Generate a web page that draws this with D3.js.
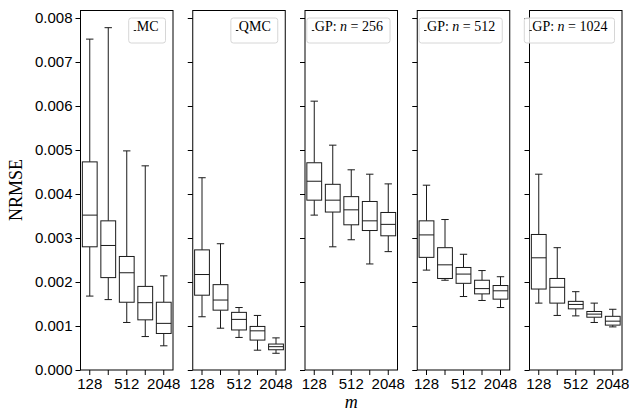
<!DOCTYPE html>
<html>
<head>
<meta charset="utf-8">
<script src="https://cdn.jsdelivr.net/npm/d3@7"></script>
<style>
  body { margin: 0; background: #fff; }
  svg { display: block; }
</style>
</head>
<body>
<div id="chart"></div>
<script>
// sample sizes m (x categories) and which get a label
const mValues = [128, 256, 512, 1024, 2048];
const mLabels = ["128", "", "512", "", "2048"];
const yTicks = [0, 0.001, 0.002, 0.003, 0.004, 0.005, 0.006, 0.007, 0.008];

// each row: [lower whisker, Q1, median, Q3, upper whisker] for one m
const mcStats = [
    [0.00168, 0.00280, 0.00352, 0.00473, 0.00752],
    [0.00160, 0.00210, 0.00283, 0.00339, 0.00778],
    [0.00108, 0.00154, 0.00221, 0.00258, 0.00498],
    [0.00076, 0.00114, 0.00153, 0.00190, 0.00464],
    [0.00055, 0.00083, 0.00106, 0.00154, 0.00214]
];
const qmcStats = [
    [0.00121, 0.00170, 0.00217, 0.00273, 0.00437],
    [0.00095, 0.00136, 0.00159, 0.00194, 0.00287],
    [0.00074, 0.00091, 0.00115, 0.00131, 0.00142],
    [0.00045, 0.00068, 0.00089, 0.00099, 0.00124],
    [0.00038, 0.00046, 0.00053, 0.00059, 0.00073]
];
const gp256Stats = [
    [0.00352, 0.00386, 0.00429, 0.00471, 0.00611],
    [0.00280, 0.00359, 0.00386, 0.00422, 0.00511],
    [0.00296, 0.00330, 0.00364, 0.00394, 0.00455],
    [0.00241, 0.00317, 0.00339, 0.00383, 0.00445],
    [0.00269, 0.00305, 0.00331, 0.00358, 0.00423]
];
const gp512Stats = [
    [0.00227, 0.00256, 0.00307, 0.00339, 0.00420],
    [0.00204, 0.00208, 0.00239, 0.00278, 0.00342],
    [0.00167, 0.00197, 0.00218, 0.00233, 0.00263],
    [0.00158, 0.00173, 0.00185, 0.00204, 0.00226],
    [0.00142, 0.00161, 0.00180, 0.00192, 0.00212]
];
const gp1024Stats = [
    [0.00152, 0.00184, 0.00255, 0.00308, 0.00445],
    [0.00124, 0.00152, 0.00188, 0.00208, 0.00278],
    [0.00123, 0.00139, 0.00149, 0.00156, 0.00178],
    [0.00108, 0.00120, 0.00127, 0.00133, 0.00152],
    [0.00098, 0.00102, 0.00111, 0.00122, 0.00138]
];

const panels = [
    {label: ["MC"], stats: mcStats},
    {label: ["QMC"], stats: qmcStats},
    {label: ["GP: ", "n", " = 256"], stats: gp256Stats},
    {label: ["GP: ", "n", " = 512"], stats: gp512Stats},
    {label: ["GP: ", "n", " = 1024"], stats: gp1024Stats}
];

const W = 629, H = 413;
const margin = {top: 10.5, bottom: 370, left: 80.5};
const panelW = 92.5, panelStep = 112.25;
const serif = "'Liberation Serif', 'DejaVu Serif', serif";
const sans = "'Liberation Sans', Arial, sans-serif";

const svg = d3.select("#chart").append("svg")
    .attr("width", W)
    .attr("height", H);

const y = d3.scaleLinear()
    .domain([0, 0.008 * (370 - 10.5) / 352])
    .range([margin.bottom, margin.top]);

const x = d3.scaleBand()
    .domain(mValues)
    .range([0, panelW])
    .paddingInner(0.2)
    .paddingOuter(0.1);

panels.forEach((p, i) => {
    const g = svg.append("g")
        .attr("transform", "translate(" + (margin.left + i * panelStep) + ",0)");

    // y axis (labels only on the first panel)
    const yAxis = d3.axisLeft(y).tickValues(yTicks).tickSize(5).tickPadding(3)
        .tickFormat(i === 0 ? d3.format(".3f") : "");
    g.append("g").call(yAxis)
        .call(a => a.select(".domain").remove())
        .call(a => a.selectAll("text").style("font-family", sans).style("font-size", "15px").attr("fill", "#000"));

    // x axis
    const xAxis = d3.axisBottom(x).tickSize(5).tickPadding(3)
        .tickFormat((d, k) => mLabels[k]);
    g.append("g")
        .attr("transform", "translate(0," + margin.bottom + ")")
        .call(xAxis)
        .call(a => a.select(".domain").remove())
        .call(a => a.selectAll("text").style("font-family", sans).style("font-size", "15px").attr("fill", "#000"));

    const boxW = x.bandwidth();
    const capW = boxW / 2;
    const boxes = g.selectAll(".box")
        .data(p.stats)
        .enter().append("g")
        .attr("class", "box")
        .attr("transform", (d, k) => "translate(" + (x(mValues[k]) + boxW / 2) + ",0)");

    // whiskers
    boxes.append("line")
        .attr("x1", 0).attr("x2", 0)
        .attr("y1", d => y(d[3])).attr("y2", d => y(d[4]))
        .attr("stroke", "#1a1a1a").attr("stroke-width", 1);
    boxes.append("line")
        .attr("x1", 0).attr("x2", 0)
        .attr("y1", d => y(d[1])).attr("y2", d => y(d[0]))
        .attr("stroke", "#1a1a1a").attr("stroke-width", 1);
    // caps
    boxes.append("line")
        .attr("x1", -capW / 2).attr("x2", capW / 2)
        .attr("y1", d => y(d[4])).attr("y2", d => y(d[4]))
        .attr("stroke", "#1a1a1a").attr("stroke-width", 1);
    boxes.append("line")
        .attr("x1", -capW / 2).attr("x2", capW / 2)
        .attr("y1", d => y(d[0])).attr("y2", d => y(d[0]))
        .attr("stroke", "#1a1a1a").attr("stroke-width", 1);
    // box
    boxes.append("rect")
        .attr("x", -boxW / 2)
        .attr("width", boxW)
        .attr("y", d => y(d[3]))
        .attr("height", d => y(d[1]) - y(d[3]))
        .attr("fill", "#fff")
        .attr("stroke", "#1a1a1a").attr("stroke-width", 1);
    // median
    boxes.append("line")
        .attr("x1", -boxW / 2).attr("x2", boxW / 2)
        .attr("y1", d => y(d[2])).attr("y2", d => y(d[2]))
        .attr("stroke", "#1a1a1a").attr("stroke-width", 1);

    // frame
    g.append("rect")
        .attr("x", 0).attr("y", margin.top)
        .attr("width", panelW).attr("height", margin.bottom - margin.top)
        .attr("fill", "none").attr("stroke", "#000").attr("stroke-width", 1);

    // legend, upper right
    const lg = g.append("g");
    const txt = lg.append("text")
        .attr("y", margin.top + 20.5)
        .style("font-family", serif).style("font-size", "14px");
    p.label.forEach((s, k) => {
        txt.append("tspan").text(s).style("font-style", k === 1 ? "italic" : "normal");
    });
    const tw = txt.node().getComputedTextLength();
    const lw = tw + 15, lh = 25;
    const lx = panelW - 7.5 - lw, ly = margin.top + 7.5;
    lg.insert("rect", "text")
        .attr("x", lx).attr("y", ly).attr("width", lw).attr("height", lh)
        .attr("rx", 2.5)
        .attr("fill", "rgba(255,255,255,0.8)")
        .attr("stroke", "#d6d6d6").attr("stroke-width", 1);
    lg.append("line")
        .attr("x1", lx + 5).attr("x2", lx + 7.5)
        .attr("y1", ly + lh / 2).attr("y2", ly + lh / 2)
        .attr("stroke", "#222").attr("stroke-width", 1);
    txt.attr("x", lx + 8);
});

// axis titles
svg.append("text")
    .attr("transform", "translate(22,190) rotate(-90)")
    .attr("text-anchor", "middle")
    .style("font-family", serif).style("font-size", "18px")
    .text("NRMSE");

svg.append("text")
    .attr("x", margin.left + (4 * panelStep + panelW) / 2)
    .attr("y", 408)
    .attr("text-anchor", "middle")
    .style("font-family", serif).style("font-size", "18px").style("font-style", "italic")
    .text("m");
</script>
</body>
</html>
